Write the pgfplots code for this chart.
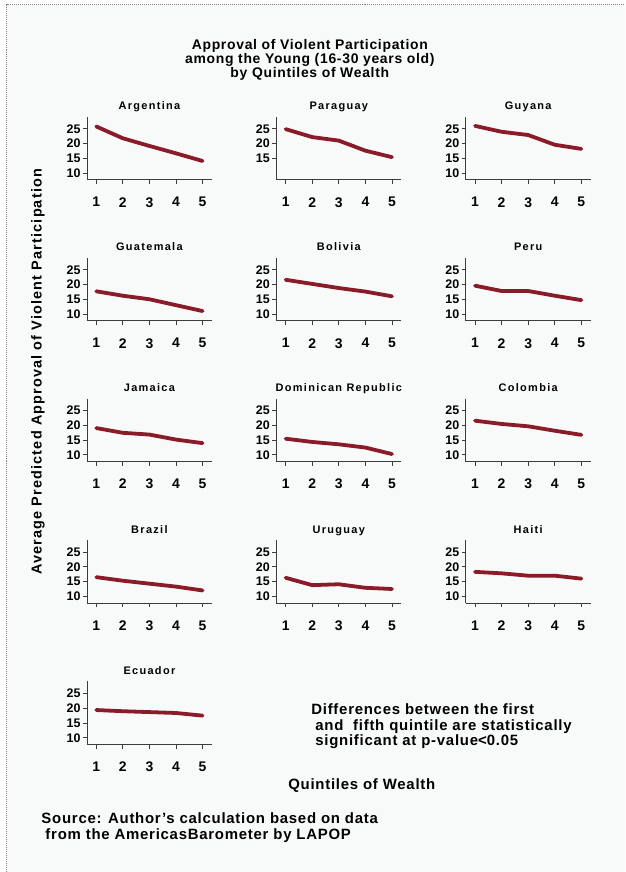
\documentclass[border=0pt]{standalone}
\usepackage{fontspec}
\setmainfont{Liberation Sans}
\newfontfamily\spc{Liberation Sans}[LetterSpace=5]
\newfontfamily\spcw{Liberation Sans}[LetterSpace=12]
\newfontfamily\spcy{Liberation Sans}[LetterSpace=8]
\usepackage{pgfplots}
\pgfplotsset{compat=1.18}
\definecolor{bg}{RGB}{248,249,249}
\definecolor{cranb}{RGB}{138,28,42}
\definecolor{axgray}{RGB}{60,60,60}

\pgfplotsset{panel/.style={
  scale only axis, width=125bp, height=63.2bp,
  xmin=0.65, xmax=5.35, ymin=7.7, ymax=29.1,
  axis lines=left, axis line style={-, axgray, line width=0.9bp},
  xtick={1,2,3,4,5}, ytick={10,15,20,25},
  tick align=outside, major tick length=4bp,
  tick style={axgray, line width=0.9bp},
  /pgf/number format/assume math mode=true,
  xticklabel style={font=\fontsize{14}{14}\selectfont\bfseries, yshift=-10bp},
  yticklabel style={font=\fontsize{12.5}{12.5}\selectfont\bfseries, xshift=1bp},
  title style={font=\spcw\fontsize{11}{12}\selectfont\bfseries, at={(0.5,1)}, anchor=base, yshift=1bp},
  clip=false,
  anchor=south west,
}}
\newcommand{\panel}[5]{%
\begin{axis}[panel, at={(#1bp,#2bp)}, title={#3}, #5]
\addplot[cranb, line width=3.8bp, line join=round, line cap=round] coordinates {#4};
\end{axis}}

\begin{document}
\begin{tikzpicture}
\fill[white] (0,0) rectangle (625bp,872bp);
\fill[bg] (7bp,0) rectangle (625bp,867bp);
\draw[gray, densely dotted, line width=1bp] (7bp,0) -- (7bp,867bp) -- (625bp,867bp);

% title
\node[align=center, font=\spc\fontsize{14}{14}\selectfont\bfseries] at (310bp,812bp)
  {Approval of Violent Participation\\among the Young (16-30 years old)\\by Quintiles of Wealth};

% row 1
\panel{87}{692}{Argentina}{(1,25.8)(2,21.8)(3,19.2)(4,16.7)(5,14.1)}{}
\panel{276.5}{692}{Paraguay}{(1,24.9)(2,22.2)(3,21.0)(4,17.6)(5,15.4)}{ytick={15,20,25}}
\panel{466}{692}{Guyana}{(1,26.0)(2,24.0)(3,22.9)(4,19.6)(5,18.2)}{}
% row 2
\panel{87}{551}{Guatemala}{(1,17.7)(2,16.2)(3,15.0)(4,13.0)(5,11.0)}{}
\panel{276.5}{551}{Bolivia}{(1,21.6)(2,20.2)(3,18.8)(4,17.6)(5,16.0)}{}
\panel{466}{551}{Peru}{(1,19.6)(2,17.8)(3,17.8)(4,16.2)(5,14.7)}{}
% row 3
\panel{87}{410}{Jamaica}{(1,19.1)(2,17.5)(3,16.9)(4,15.2)(5,14.0)}{}
\panel{276.5}{410}{Dominican Republic}{(1,15.5)(2,14.4)(3,13.6)(4,12.5)(5,10.3)}{}
\panel{466}{410}{Colombia}{(1,21.6)(2,20.5)(3,19.7)(4,18.2)(5,16.8)}{}
% row 4
\panel{87}{268.5}{Brazil}{(1,16.5)(2,15.3)(3,14.3)(4,13.3)(5,12.0)}{}
\panel{276.5}{268.5}{Uruguay}{(1,16.3)(2,13.8)(3,14.1)(4,12.9)(5,12.5)}{}
\panel{466}{268.5}{Haiti}{(1,18.3)(2,17.8)(3,17.0)(4,17.0)(5,16.0)}{}
% row 5
\panel{87}{127}{Ecuador}{(1,19.4)(2,19.0)(3,18.7)(4,18.4)(5,17.5)}{}

% y label
\node[rotate=90, font=\spcy\fontsize{14.5}{15}\selectfont\bfseries] at (38bp,500bp)
  {Average Predicted Approval of Violent Participation};

% note
\node[align=left, anchor=west, font=\spc\fontsize{15}{15.5}\selectfont\bfseries] at (308bp,145bp)
  {Differences between the first\\\hspace*{4bp}and\ \ fifth quintile are statistically\\\hspace*{4bp}significant at p-value{\fontspec{Liberation Sans}<}0.05};

% x label
\node[font=\spc\fontsize{15}{15}\selectfont\bfseries] at (362bp,86bp) {Quintiles of Wealth};

% source
\node[align=left, anchor=west, font=\spc\fontsize{15}{16}\selectfont\bfseries] at (38bp,44bp)
  {Source: Author’s calculation based on data\\\hspace*{4bp}from the AmericasBarometer by LAPOP};
\end{tikzpicture}
\end{document}
